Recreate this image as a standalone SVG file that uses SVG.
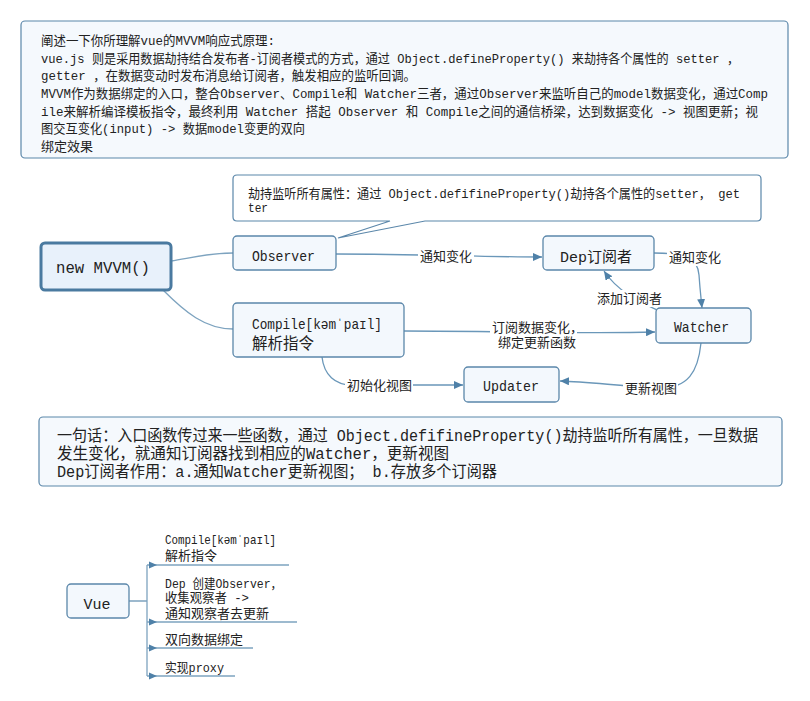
<svg xmlns="http://www.w3.org/2000/svg" width="810" height="701" viewBox="0 0 810 701">
<defs>
<style>
.t{font-family:"Liberation Mono","Noto Sans CJK SC",monospace;fill:#222}
.s13{font-size:13px}
.s15{font-size:15px}
.s16{font-size:16px}
.box{fill:#f5f9fd;stroke:#5b87aa;stroke-width:1.2}
.node{fill:#f3f8fd;stroke:#5b87aa;stroke-width:1.3}
.main{fill:#e8f1fb;stroke:#4a7aa0;stroke-width:3}
.br{fill:none;stroke:#7da3bf;stroke-width:1.3}
.ed{fill:none;stroke:#6a97b9;stroke-width:1.3}
.lb{fill:#ffffff}
</style>
<marker id="ah" markerUnits="userSpaceOnUse" markerWidth="10" markerHeight="8" refX="9" refY="4" orient="auto">
<path d="M0,0 L9,4 L0,8 z" fill="#4f81a8"/>
</marker>
<marker id="ahs" markerUnits="userSpaceOnUse" markerWidth="9" markerHeight="7" refX="8" refY="3.5" orient="auto">
<path d="M0,0 L8,3.5 L0,7 z" fill="#4f81a8"/>
</marker>
</defs>
<rect width="810" height="701" fill="#ffffff"/>

<g id="intro">
<rect class="box" x="21" y="21" width="767" height="137" rx="4"/>
<text class="t s13" x="41" y="45" textLength="234" lengthAdjust="spacingAndGlyphs">阐述一下你所理解vue的MVVM响应式原理:</text>
<text class="t s13" x="41" y="62.7" textLength="698" lengthAdjust="spacingAndGlyphs">vue.js 则是采用数据劫持结合发布者-订阅者模式的方式，通过 Object.defineProperty() 来劫持各个属性的 setter ，</text>
<text class="t s13" x="41" y="80.3" textLength="375" lengthAdjust="spacingAndGlyphs">getter ，在数据变动时发布消息给订阅者，触发相应的监听回调。</text>
<text class="t s13" x="41" y="98" textLength="727" lengthAdjust="spacingAndGlyphs">MVVM作为数据绑定的入口，整合Observer、Compile和 Watcher三者，通过Observer来监听自己的model数据变化，通过Comp</text>
<text class="t s13" x="41" y="115.7" textLength="717" lengthAdjust="spacingAndGlyphs">ile来解析编译模板指令，最终利用 Watcher 搭起 Observer 和 Compile之间的通信桥梁，达到数据变化 -&gt; 视图更新；视</text>
<text class="t s13" x="41" y="133.3" textLength="264" lengthAdjust="spacingAndGlyphs">图交互变化(input) -&gt; 数据model变更的双向</text>
<text class="t s13" x="41" y="151">绑定效果</text>
</g>

<g id="connectors">
<path class="br" d="M171,261 C195,257 210,253 233,253"/>
<path class="br" d="M163,290 C185,312 205,329 233,329"/>
<path class="ed" d="M336,254 C420,254 480,257 542,257" marker-end="url(#ah)"/>
<path class="ed" d="M654,253 C685,253 698,258 699,275 C700,290 701,298 702,308" marker-end="url(#ah)"/>
<path class="ed" d="M657,310 C640,302 618,292 604,271" marker-end="url(#ah)"/>
<path class="ed" d="M404,331 C500,331 580,334 655,332" marker-end="url(#ah)"/>
<path class="ed" d="M322,357 C324,375 335,385 352,385 L463,385" marker-end="url(#ah)"/>
<path class="ed" d="M701,343 C698,372 688,388 660,388 C620,386 590,382 560,381" marker-end="url(#ah)"/>
<rect class="lb" x="418" y="248" width="56" height="17"/>
<text class="t s13" x="420" y="261">通知变化</text>
<rect class="lb" x="667" y="249" width="55" height="17"/>
<text class="t s13" x="669" y="262">通知变化</text>
<rect class="lb" x="595" y="290" width="68" height="17"/>
<text class="t s13" x="597" y="303">添加订阅者</text>
<rect class="lb" x="490" y="319" width="87" height="31"/>
<text class="t s13" x="492" y="331.5">订阅数据变化，</text>
<text class="t s13" x="498" y="346.5">绑定更新函数</text>
<rect class="lb" x="345" y="377" width="68" height="17"/>
<text class="t s13" x="347" y="390">初始化视图</text>
<rect class="lb" x="623" y="380" width="55" height="17"/>
<text class="t s13" x="625" y="393">更新视图</text>
<path class="br" d="M129,601 H147 M147,565 V676"/>
<path class="br" d="M147,565 H289" marker-end="none"/>
<path class="br" d="M147,622 H297"/>
<path class="br" d="M147,648 H253"/>
<path class="br" d="M147,676 H235"/>
<path d="M149,561.5 L157,565 L149,568.5 z" fill="#4f81a8"/>
<path d="M149,618.5 L157,622 L149,625.5 z" fill="#4f81a8"/>
<path d="M149,644.5 L157,648 L149,651.5 z" fill="#4f81a8"/>
<path d="M149,672.5 L157,676 L149,679.5 z" fill="#4f81a8"/>
</g>

<g id="callout">
<path d="M237,175 H757 Q761,175 761,179 V217 Q761,221 757,221 H425 L338,238 L390,221 H237 Q233,221 233,217 V179 Q233,175 237,175 Z" fill="#ffffff" stroke="#5b87aa" stroke-width="1.2"/>
<text class="t s13" x="248" y="198" textLength="492" lengthAdjust="spacingAndGlyphs">劫持监听所有属性：通过 Object.defifineProperty()劫持各个属性的setter， get</text>
<text class="t s13" x="248" y="211.5" textLength="20" lengthAdjust="spacingAndGlyphs">ter</text>
</g>

<g id="mvvm">
<rect class="main" x="41" y="243" width="130" height="47" rx="4"/>
<text class="t" style="font-size:17px" x="56" y="273" textLength="94" lengthAdjust="spacingAndGlyphs">new MVVM()</text>
</g>

<g id="observer">
<rect class="node" x="233" y="236" width="103" height="34" rx="4"/>
<text class="t s15" x="252" y="261" textLength="63" lengthAdjust="spacingAndGlyphs">Observer</text>
</g>

<g id="dep">
<rect class="node" x="543" y="236" width="111" height="34" rx="4"/>
<text class="t s15" x="560" y="261.5" textLength="72" lengthAdjust="spacingAndGlyphs">Dep订阅者</text>
</g>

<g id="compile">
<rect class="node" x="233" y="303" width="171" height="54" rx="4"/>
<text class="t s15" x="252" y="328.5" textLength="130" lengthAdjust="spacingAndGlyphs">Compile[kəmˈpaɪl]</text>
<text class="t" style="font-size:15.5px" x="252" y="349">解析指令</text>
</g>

<g id="watcher">
<rect class="node" x="656" y="308" width="95" height="35" rx="4"/>
<text class="t s15" x="674" y="332" textLength="55" lengthAdjust="spacingAndGlyphs">Watcher</text>
</g>

<g id="updater">
<rect class="node" x="464" y="367" width="95" height="35" rx="4"/>
<text class="t s15" x="483" y="391" textLength="56" lengthAdjust="spacingAndGlyphs">Updater</text>
</g>

<g id="summary">
<rect class="box" x="39" y="417" width="743" height="69" rx="4"/>
<text class="t s16" x="57" y="441" textLength="701" lengthAdjust="spacingAndGlyphs">一句话：入口函数传过来一些函数，通过 Object.defifineProperty()劫持监听所有属性，一旦数据</text>
<text class="t s16" x="57" y="459" textLength="392" lengthAdjust="spacingAndGlyphs">发生变化，就通知订阅器找到相应的Watcher，更新视图</text>
<text class="t s16" x="57" y="477" textLength="440" lengthAdjust="spacingAndGlyphs">Dep订阅者作用：a.通知Watcher更新视图；  b.存放多个订阅器</text>
</g>

<g id="vue">
<rect class="node" x="67" y="584" width="62" height="34" rx="4"/>
<text class="t s15" x="97" y="608.5" text-anchor="middle">Vue</text>
</g>

<g id="vue-compile">
<text class="t s13" x="165" y="543.5" textLength="111" lengthAdjust="spacingAndGlyphs">Compile[kəmˈpaɪl]</text>
<text class="t s13" x="165" y="560">解析指令</text>
</g>
<g id="vue-dep">
<text class="t s13" x="165" y="588" textLength="117" lengthAdjust="spacingAndGlyphs">Dep 创建Observer，</text>
<text class="t s13" x="165" y="602" textLength="84" lengthAdjust="spacingAndGlyphs">收集观察者 -&gt;</text>
<text class="t s13" x="165" y="618">通知观察者去更新</text>
</g>
<g id="vue-binding">
<text class="t s13" x="165" y="644">双向数据绑定</text>
</g>
<g id="vue-proxy">
<text class="t s13" x="165" y="672" textLength="59" lengthAdjust="spacingAndGlyphs">实现proxy</text>
</g>
</svg>
